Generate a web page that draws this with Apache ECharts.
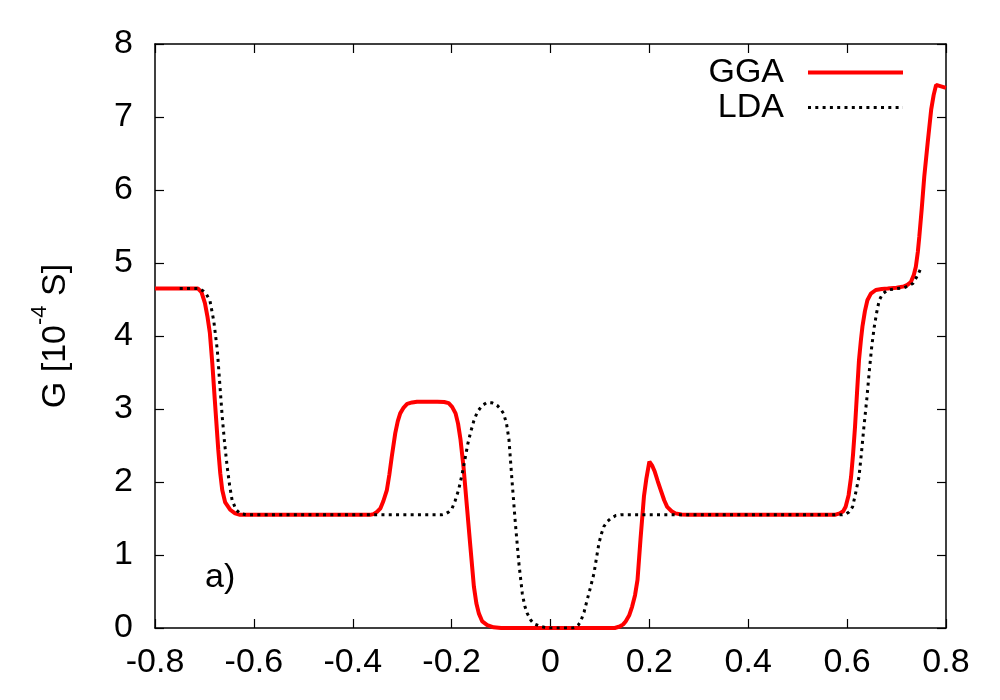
<!DOCTYPE html>
<html>
<head>
<meta charset="utf-8">
<script src="https://cdn.jsdelivr.net/npm/echarts@6/dist/echarts.min.js"></script>
<style>html,body{margin:0;padding:0;background:#fff}#c{width:1000px;height:700px}</style>
</head>
<body>
<div id="c"></div>
<script>
const xTicks = [-0.8, -0.6, -0.4, -0.2, 0, 0.2, 0.4, 0.6, 0.8];
const yTicks = [0, 1, 2, 3, 4, 5, 6, 7, 8];

const ggaX = [-0.8, -0.713, -0.706, -0.699, -0.694, -0.689, -0.684, -0.679, -0.672, -0.668, -0.664, -0.658, -0.648, -0.638, -0.628,
  -0.365, -0.358, -0.351, -0.344, -0.338, -0.331, -0.326, -0.321, -0.314, -0.309, -0.304, -0.297, -0.290, -0.280, -0.270, -0.250, -0.229, -0.215, -0.206, -0.199, -0.192, -0.187, -0.182, -0.176, -0.169, -0.162, -0.155, -0.150, -0.145, -0.138, -0.128, -0.115, -0.100,
  0.130, 0.140, 0.147, 0.152, 0.159, 0.165, 0.171, 0.176, 0.182, 0.189, 0.194, 0.200, 0.206, 0.211, 0.217, 0.223, 0.230, 0.236, 0.245, 0.253, 0.265, 0.280,
  0.575, 0.585, 0.592, 0.597, 0.603, 0.608, 0.612, 0.616, 0.620, 0.624, 0.628, 0.631, 0.636, 0.641, 0.648, 0.658, 0.670, 0.682, 0.700, 0.715, 0.722, 0.729, 0.735, 0.739, 0.743, 0.746, 0.751, 0.756, 0.763, 0.770, 0.775, 0.780, 0.800];
const ggaY = [4.65, 4.65, 4.60, 4.45, 4.27, 4.04, 3.62, 3.12, 2.44, 2.12, 1.89, 1.72, 1.62, 1.57, 1.55,
  1.55, 1.56, 1.59, 1.64, 1.74, 1.89, 2.10, 2.35, 2.67, 2.83, 2.94, 3.02, 3.07, 3.09, 3.10, 3.10, 3.10, 3.095, 3.08, 3.03, 2.94, 2.80, 2.58, 2.21, 1.66, 1.11, 0.57, 0.34, 0.20, 0.09, 0.04, 0.01, 0.0,
  0.0, 0.02, 0.05, 0.09, 0.17, 0.29, 0.45, 0.66, 1.21, 1.80, 2.05, 2.28, 2.22, 2.14, 2.01, 1.89, 1.75, 1.66, 1.60, 1.57, 1.555, 1.55,
  1.55, 1.57, 1.60, 1.66, 1.82, 2.07, 2.38, 2.76, 3.22, 3.67, 3.95, 4.13, 4.34, 4.49, 4.58, 4.63, 4.645, 4.65, 4.66, 4.68, 4.70, 4.74, 4.84, 4.95, 5.15, 5.36, 5.75, 6.18, 6.65, 7.10, 7.30, 7.44, 7.40];

const ldaX = [-0.75, -0.712, -0.703, -0.696, -0.689, -0.681, -0.674, -0.669, -0.664, -0.659, -0.654, -0.649, -0.644, -0.636, -0.628, -0.615,
  -0.220, -0.213, -0.206, -0.199, -0.193, -0.186, -0.179, -0.172, -0.167, -0.162, -0.155, -0.148, -0.138, -0.128, -0.118, -0.108, -0.101, -0.095, -0.089, -0.084, -0.078, -0.071, -0.064, -0.057, -0.052, -0.047, -0.040, -0.034, -0.020, -0.005,
  0.045, 0.051, 0.056, 0.061, 0.068, 0.074, 0.081, 0.088, 0.093, 0.098, 0.103, 0.108, 0.115, 0.122, 0.132, 0.142,
  0.590, 0.597, 0.604, 0.611, 0.617, 0.624, 0.629, 0.634, 0.640, 0.645, 0.650, 0.655, 0.660, 0.665, 0.672, 0.682, 0.700, 0.715, 0.725, 0.733, 0.740, 0.746, 0.749];
const ldaY = [4.65, 4.65, 4.62, 4.57, 4.49, 4.20, 3.81, 3.35, 2.89, 2.52, 2.21, 1.95, 1.75, 1.62, 1.57, 1.55,
  1.55, 1.56, 1.59, 1.64, 1.74, 1.89, 2.10, 2.35, 2.53, 2.67, 2.84, 2.96, 3.05, 3.09, 3.085, 3.05, 3.00, 2.94, 2.80, 2.58, 2.03, 1.43, 0.89, 0.47, 0.30, 0.20, 0.11, 0.06, 0.02, 0.0,
  0.0, 0.01, 0.04, 0.09, 0.22, 0.38, 0.56, 0.75, 0.96, 1.16, 1.29, 1.39, 1.46, 1.50, 1.54, 1.55,
  1.55, 1.56, 1.59, 1.66, 1.84, 2.07, 2.40, 2.76, 3.15, 3.53, 3.87, 4.13, 4.33, 4.49, 4.58, 4.63, 4.65, 4.66, 4.69, 4.72, 4.80, 4.88, 4.93];

const zip = (xs, ys) => xs.map((x, i) => [x, ys[i]]);
const font = 'Liberation Sans, Arial, sans-serif';
const axisCommon = {
  axisLine: { show: true, onZero: false, lineStyle: { color: '#000', width: 1.5 } },
  axisTick: { show: true, inside: true, length: 9, lineStyle: { color: '#000', width: 1.2 } },
  splitLine: { show: false }
};
const ggaLine = { color: '#ff0000', width: 4 };
const ldaLine = { color: '#000', width: 3, type: [3, 4.3] };

const chart = echarts.init(document.getElementById('c'), null, { renderer: 'canvas' });
chart.setOption({
  animation: false,
  backgroundColor: '#fff',
  grid: { left: 155, right: 54, top: 44, bottom: 72, containLabel: false },
  legend: {
    orient: 'vertical', right: 90, top: 50, align: 'right',
    itemWidth: 95, itemHeight: 35, itemGap: 0,
    itemStyle: { opacity: 0 },
    textStyle: { fontFamily: font, fontSize: 34, color: '#000', width: 100, align: 'right', padding: [0, 19, 0, 0], lineHeight: 35 },
    data: [
      { name: 'GGA', lineStyle: ggaLine },
      { name: 'LDA', lineStyle: ldaLine }
    ]
  },
  xAxis: [
    Object.assign({ type: 'value', min: xTicks[0], max: xTicks[xTicks.length - 1], interval: 0.2, position: 'bottom',
      axisLabel: { fontFamily: font, fontSize: 34, color: '#000', margin: 18, formatter: v => String(+v.toFixed(1)) } }, axisCommon),
    Object.assign({ type: 'value', min: xTicks[0], max: xTicks[xTicks.length - 1], interval: 0.2, position: 'top',
      axisLabel: { show: false } }, axisCommon)
  ],
  yAxis: [
    Object.assign({ type: 'value', min: yTicks[0], max: yTicks[yTicks.length - 1], interval: 1, position: 'left',
      name: '{a|G [10}{s|-4}{a| S]}', nameLocation: 'middle', nameGap: 82, nameRotate: 90,
      nameTextStyle: { rich: {
        a: { fontFamily: font, fontSize: 34, color: '#000', lineHeight: 44, verticalAlign: 'bottom' },
        s: { fontFamily: font, fontSize: 22, color: '#000', lineHeight: 44, verticalAlign: 'top' } } },
      axisLabel: { fontFamily: font, fontSize: 34, color: '#000', margin: 22 } }, axisCommon),
    Object.assign({ type: 'value', min: yTicks[0], max: yTicks[yTicks.length - 1], interval: 1, position: 'right',
      axisLabel: { show: false } }, axisCommon)
  ],
  graphic: [{
    type: 'text', left: 205, top: 561,
    style: { text: 'a)', fontFamily: font, fontSize: 34, fill: '#000' }
  }],
  series: [
    { name: 'GGA', type: 'line', data: zip(ggaX, ggaY), symbol: 'none', smooth: false,
      lineStyle: ggaLine, itemStyle: { color: '#ff0000' }, z: 3 },
    { name: 'LDA', type: 'line', data: zip(ldaX, ldaY), symbol: 'none', smooth: false,
      lineStyle: ldaLine, itemStyle: { color: '#000' }, z: 4 }
  ]
});
</script>
</body>
</html>
